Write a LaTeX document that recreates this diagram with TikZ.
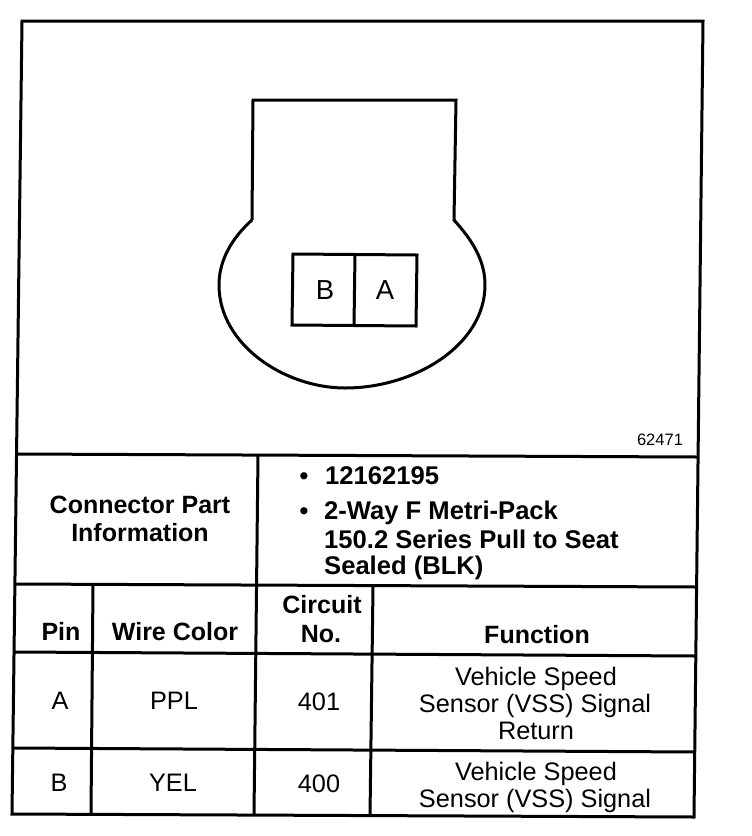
\documentclass[tikz,border=0pt]{standalone}
\usepackage{fontspec}
\setmainfont{Liberation Sans}
\tikzset{
	rule/.style={line width=3pt},
	plain/.style={inner sep=0pt,anchor=base,font=\fontsize{25.3}{28}\selectfont,align=center},
	cavity/.style={plain,font=\fontsize{27.5}{28}\selectfont},
	head/.style={inner sep=0pt,anchor=base,font=\bfseries\fontsize{25}{27.5}\selectfont},
	lefthead/.style={head,anchor=base west,font=\bfseries\fontsize{25.6}{27.5}\selectfont}
}
\begin{document}
\begin{tikzpicture}[x=1pt,y=-1pt]
	\useasboundingbox (0,0) rectangle (752,836);
	% frame and table corners
	\coordinate (TL) at (22,21);
	\coordinate (TR) at (703,21);
	\coordinate (BL) at (12,814);
	\coordinate (BR) at (694,817);
	\coordinate (HaL) at (17,454);
	\coordinate (HaR) at (697,457);
	\coordinate (HbL) at (16,584);
	\coordinate (HbR) at (696,587);
	\coordinate (HcL) at (15,652);
	\coordinate (HcR) at (695,656);
	\coordinate (HdL) at (14,748);
	\coordinate (HdR) at (695,752);
	\coordinate (VaT) at (258,455);
	\coordinate (VaB) at (254,815);
	\coordinate (VbT) at (93,585);
	\coordinate (VbB) at (91,814);
	\coordinate (VcT) at (373,587);
	\coordinate (VcB) at (370,816);
	\draw[rule] (TL) -- (TR) -- (BR) -- (BL) -- cycle;
	\draw[rule] (HaL) -- (HaR);
	\draw[rule] (HbL) -- (HbR);
	\draw[rule] (HcL) -- (HcR);
	\draw[rule] (HdL) -- (HdR);
	\draw[rule] (VaT) -- (VaB);
	\draw[rule] (VbT) -- (VbB);
	\draw[rule] (VcT) -- (VcB);
	% connector outline
	\coordinate (CnA) at (253,100);
	\coordinate (CnB) at (456,100);
	\coordinate (CnC) at (454,220);
	\coordinate (CnD) at (252,220);
	\coordinate (CnL) at (219,285);
	\coordinate (CnS) at (345,388);
	\coordinate (CnR) at (485,285);
	\draw[rule] (CnD) -- (CnA) -- (CnB) -- (CnC)
		.. controls (472,240) and (485,260) .. (CnR)
		.. controls (485,345) and (415,388) .. (CnS)
		.. controls (285,388) and (219,345) .. (CnL)
		.. controls (219,260) and (232,238) .. (CnD);
	% pin cavities
	\coordinate (PnA) at (293,254);
	\coordinate (PnB) at (417,255);
	\coordinate (PnC) at (416,326);
	\coordinate (PnD) at (292,325);
	\coordinate (PnE) at (355,254);
	\coordinate (PnF) at (354,326);
	\draw[rule] (PnA) -- (PnB) -- (PnC) -- (PnD) -- cycle;
	\draw[rule] (PnE) -- (PnF);
	\node[cavity] (cavB) at (325,299) {B};
	\node[cavity] (cavA) at (385,299) {A};
	\node[inner sep=0pt,anchor=base,font=\fontsize{16.5}{16}\selectfont] (drawno) at (660,445) {62471};
	% connector part information
	\node[head,align=center,anchor=center] (partinfo) at (140,519) {Connector Part\\Information};
	\node[head] (bulleta) at (304,484) {•};
	\node[lefthead] (partno) at (325,484) {12162195};
	\node[head] (bulletb) at (304,519) {•};
	\node[lefthead] (partla) at (324,519) {2-Way F Metri-Pack};
	\node[lefthead] (partlb) at (324,548) {150.2 Series Pull to Seat};
	\node[lefthead] (partlc) at (324,574) {Sealed (BLK)};
	% column heads
	\node[head] (pinhead) at (61,640) {Pin};
	\node[head] (wirehead) at (175,640) {Wire Color};
	\node[head] (circa) at (322,613) {Circuit};
	\node[head] (circb) at (321,642) {No.};
	\node[head] (funchead) at (537,643) {Function};
	% rows
	\node[plain] (pina) at (60,709) {A};
	\node[plain] (wirea) at (174,709) {PPL};
	\node[plain] (circuita) at (319,710) {401};
	\node[plain] (funcaa) at (536,685) {Vehicle Speed};
	\node[plain] (funcab) at (535,712) {Sensor (VSS) Signal};
	\node[plain] (funcac) at (536,739) {Return};
	\node[plain] (pinb) at (59,791) {B};
	\node[plain] (wireb) at (173,791) {YEL};
	\node[plain] (circuitb) at (319,792) {400};
	\node[plain] (funcba) at (536,780) {Vehicle Speed};
	\node[plain] (funcbb) at (535,807) {Sensor (VSS) Signal};
\end{tikzpicture}
\end{document}
